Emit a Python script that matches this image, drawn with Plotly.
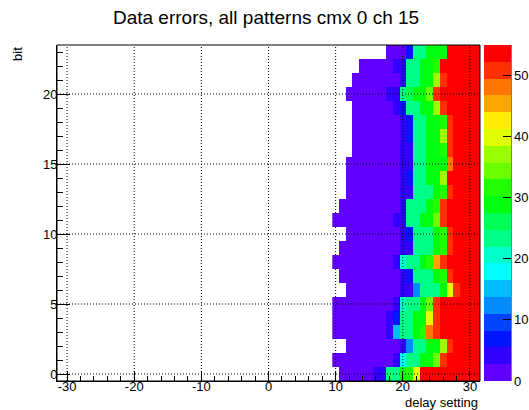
import plotly.graph_objects as go

# ---- data ----
delay = [10, 11, 12, 13, 14, 15, 16, 17, 18, 19, 20, 21, 22, 23, 24, 25, 26, 27, 28, 29, 30, 31]
bits = list(range(24))

# error counts per bit (row) for delay settings 10..31 ; 0 = empty bin
errors = [
    [0, 1, 1, 1, 1, 1, 4, 4, 23, 23, 29, 32, 40, 54, 54, 54, 54, 54, 54, 54, 54, 54],   # bit 0
    [1, 1, 1, 1, 1, 1, 1, 1, 1, 4, 18, 23, 23, 29, 29, 34, 51, 54, 54, 54, 54, 54],     # bit 1
    [0, 0, 1, 1, 1, 1, 1, 1, 1, 1, 4, 12, 23, 23, 29, 29, 37, 51, 54, 54, 54, 54],      # bit 2
    [1, 1, 1, 1, 1, 1, 1, 1, 4, 15, 23, 23, 29, 32, 48, 51, 54, 54, 54, 54, 54, 54],    # bit 3
    [1, 1, 1, 1, 1, 1, 1, 1, 4, 7, 23, 23, 29, 29, 40, 51, 54, 54, 54, 54, 54, 54],     # bit 4
    [1, 1, 1, 1, 1, 1, 1, 1, 1, 4, 21, 23, 23, 29, 34, 51, 54, 54, 54, 54, 54, 54],     # bit 5
    [0, 0, 1, 1, 1, 1, 1, 1, 1, 1, 4, 4, 12, 23, 23, 23, 29, 40, 51, 54, 54, 54],       # bit 6
    [0, 1, 1, 1, 1, 1, 1, 1, 1, 1, 4, 7, 23, 23, 23, 29, 32, 51, 54, 54, 54, 54],       # bit 7
    [1, 1, 1, 1, 1, 1, 1, 1, 1, 4, 21, 23, 23, 29, 32, 45, 51, 54, 54, 54, 54, 54],     # bit 8
    [0, 1, 1, 1, 1, 1, 1, 1, 1, 1, 4, 4, 23, 23, 23, 29, 32, 51, 54, 54, 54, 54],       # bit 9
    [0, 0, 1, 1, 1, 1, 1, 1, 1, 1, 4, 7, 23, 23, 23, 29, 32, 51, 54, 54, 54, 54],       # bit 10
    [1, 1, 1, 1, 1, 1, 1, 1, 1, 4, 4, 23, 23, 29, 29, 34, 51, 54, 54, 54, 54, 54],      # bit 11
    [0, 1, 1, 1, 1, 1, 1, 1, 1, 1, 4, 23, 23, 23, 29, 32, 51, 54, 54, 54, 54, 54],      # bit 12
    [0, 0, 1, 1, 1, 1, 1, 1, 1, 1, 4, 4, 23, 23, 23, 29, 32, 51, 54, 54, 54, 54],       # bit 13
    [0, 0, 1, 1, 1, 1, 1, 1, 1, 1, 4, 7, 23, 23, 29, 29, 37, 54, 54, 54, 54, 54],       # bit 14
    [0, 0, 1, 1, 1, 1, 1, 1, 1, 1, 4, 4, 23, 23, 29, 29, 29, 48, 54, 54, 54, 54],       # bit 15
    [0, 0, 0, 1, 1, 1, 1, 1, 1, 1, 4, 4, 23, 23, 29, 29, 32, 51, 54, 54, 54, 54],       # bit 16
    [0, 0, 0, 1, 1, 1, 1, 1, 1, 1, 4, 7, 23, 23, 29, 29, 37, 51, 54, 54, 54, 54],       # bit 17
    [0, 0, 0, 1, 1, 1, 1, 1, 1, 1, 4, 7, 23, 23, 29, 29, 32, 51, 54, 54, 54, 54],       # bit 18
    [0, 0, 0, 1, 1, 1, 1, 1, 1, 4, 7, 23, 23, 29, 29, 37, 51, 54, 54, 54, 54, 54],      # bit 19
    [0, 0, 1, 1, 1, 1, 1, 1, 4, 4, 23, 26, 29, 29, 34, 51, 54, 54, 54, 54, 54, 54],     # bit 20
    [0, 0, 0, 1, 1, 1, 1, 1, 1, 1, 4, 23, 23, 29, 29, 37, 51, 54, 54, 54, 54, 54],      # bit 21
    [0, 0, 0, 0, 1, 1, 1, 1, 1, 4, 4, 23, 23, 29, 29, 32, 54, 54, 54, 54, 54, 54],      # bit 22
    [0, 0, 0, 0, 0, 0, 0, 0, 1, 1, 1, 7, 23, 23, 29, 29, 29, 54, 54, 54, 54, 54],       # bit 23
]

x_ticks = [-30, -20, -10, 0, 10, 20, 30]
x_tick_labels = ["-30", "-20", "-10", "0", "10", "20", "30"]
y_ticks = [0, 5, 10, 15, 20]
cbar_ticks = [0, 10, 20, 30, 40, 50]
z_min, z_max = 0, 55

# ROOT default (rainbow) palette, 20 contour levels
palette = ["#6200FF", "#3300FF", "#0014FF", "#0044FF", "#008BFF", "#00BBFF", "#00FFFC",
           "#00FFCC", "#00FF85", "#00FF55", "#00FF0E", "#22FF00", "#69FF00", "#99FF00",
           "#E0FF00", "#FFEE00", "#FFA700", "#FF7700", "#FF3000", "#FF0000"]

n = len(palette)
colorscale = []
for i, c in enumerate(palette):
    colorscale.append([i / n, c])
    colorscale.append([(i + 1) / n, c])

z = [[(v if v > 0 else None) for v in row] for row in errors]

font = "Liberation Sans, Arial, Helvetica, sans-serif"

fig = go.Figure(go.Heatmap(
    x=delay, y=bits, z=z,
    zmin=z_min, zmax=z_max,
    colorscale=colorscale,
    hoverongaps=False,
    colorbar=dict(
        x=1.0095, xanchor="left", xpad=0,
        y=0.5, yanchor="middle", ypad=0,
        len=1, lenmode="fraction",
        thickness=27, thicknessmode="pixels",
        outlinewidth=0,
        tickvals=cbar_ticks,
        ticks="inside", ticklen=8, tickcolor="black", tickwidth=1,
        tickfont=dict(family=font, size=13, color="black"),
    ),
))

shapes = []
for xv in x_ticks:
    shapes.append(dict(type="line", xref="x", yref="paper", x0=xv, x1=xv, y0=0, y1=1,
                       line=dict(color="black", width=1, dash="1px,2px"), layer="above"))
for yv in y_ticks:
    shapes.append(dict(type="line", xref="paper", yref="y", x0=0, x1=1, y0=yv, y1=yv,
                       line=dict(color="black", width=1, dash="1px,2px"), layer="above"))
shapes.append(dict(type="rect", xref="paper", yref="paper", x0=0, x1=1, y0=0, y1=1,
                   line=dict(color="black", width=1), layer="above"))
# colorbar axis line
shapes.append(dict(type="line", xref="paper", yref="paper", x0=1.0733, x1=1.0733, y0=0, y1=1,
                   line=dict(color="black", width=1), layer="above"))

fig.update_layout(
    width=529, height=410,
    margin=dict(l=57, r=49, t=45, b=29, autoexpand=False),
    paper_bgcolor="white", plot_bgcolor="white",
    font=dict(family=font, size=13, color="black"),
    title=dict(text="Data errors, all patterns cmx 0 ch 15", x=0.503, xanchor="center",
               y=0.957, yanchor="middle", xref="container", yref="container",
               font=dict(family=font, size=19, color="black")),
    shapes=shapes,
    annotations=[
        dict(text="delay setting", xref="paper", yref="paper", x=1, y=-0.064,
             xanchor="right", yanchor="middle", showarrow=False,
             font=dict(family=font, size=13, color="black")),
        dict(text="bit", xref="paper", yref="paper", x=-0.0946, y=1,
             xanchor="center", yanchor="top", textangle=-90, showarrow=False,
             font=dict(family=font, size=13, color="black")),
    ],
)

fig.update_xaxes(
    range=[-31.5, 31.5], tickvals=x_ticks, ticktext=x_tick_labels,
    showgrid=False, zeroline=False,
    showline=True, linecolor="black", linewidth=1,
    ticks="inside", ticklen=10, tickcolor="black", tickwidth=1,
    ticklabelstandoff=-7,
    minor=dict(dtick=2, tick0=0, ticks="inside", ticklen=5, tickcolor="black", showgrid=False),
    tickfont=dict(family=font, size=13, color="black"),
    layer="above traces",
)
fig.update_yaxes(
    range=[-0.5, 23.5], tickvals=y_ticks, showgrid=False, zeroline=False,
    showline=True, linecolor="black", linewidth=1,
    ticks="inside", ticklen=13, tickcolor="black", tickwidth=1,
    ticklabelstandoff=-4,
    minor=dict(dtick=1, tick0=0, ticks="inside", ticklen=6, tickcolor="black", showgrid=False),
    tickfont=dict(family=font, size=13, color="black"),
    layer="above traces",
)

# remove the browser's default 8px body margin so the figure fills the window exactly
fig.write_html("out.html",
               config={"displayModeBar": False},
               post_script="document.body.style.margin='0';document.body.style.overflow='hidden';")
